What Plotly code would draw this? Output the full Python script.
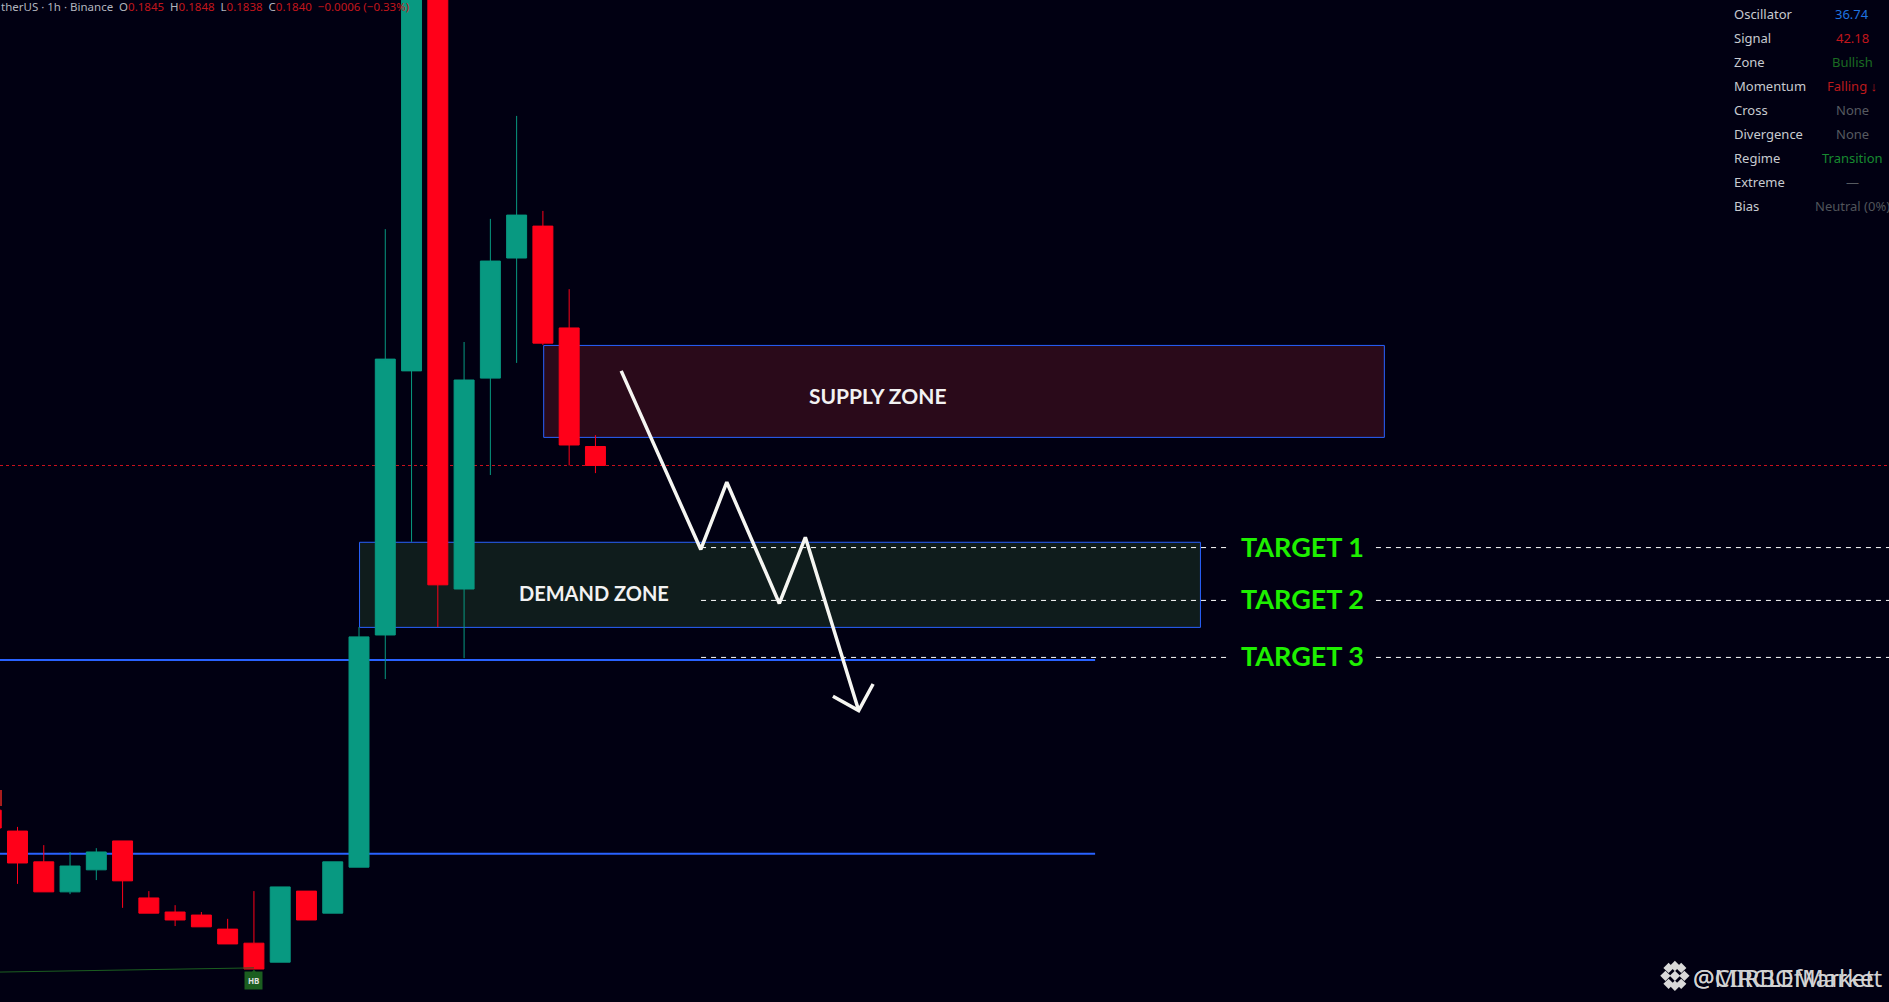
import plotly.graph_objects as go

# 1h candles, bar index and prices
bars = list(range(-1, 23))
opens = [0.17493, 0.17438, 0.17357, 0.17278, 0.17336, 0.17412, 0.17262, 0.17225, 0.17217, 0.1718, 0.17143, 0.17093,
         0.1728, 0.17222, 0.17343, 0.17954, 0.18649, 0.2010, 0.18075, 0.1863, 0.18946, 0.1903, 0.18762, 0.1845]
highs = [0.17493, 0.17449, 0.17401, 0.17383, 0.17393, 0.17412, 0.1728, 0.17243, 0.17225, 0.17207, 0.1728, 0.17291,
         0.1728, 0.17357, 0.17975, 0.19022, 0.1990, 0.2010, 0.18725, 0.19049, 0.1932, 0.1907, 0.18864, 0.1848]
lows = [0.17446, 0.17299, 0.17278, 0.17272, 0.17309, 0.17236, 0.17222, 0.17188, 0.17186, 0.17141, 0.17075, 0.17093,
        0.17204, 0.17222, 0.17343, 0.17838, 0.18199, 0.17975, 0.17893, 0.18375, 0.1867, 0.18717, 0.184, 0.1838]
closes = [0.17446, 0.17354, 0.17278, 0.17346, 0.17383, 0.17307, 0.17222, 0.17204, 0.17186, 0.17141, 0.17075, 0.17291,
          0.17204, 0.17357, 0.17949, 0.1868, 0.1990, 0.18086, 0.18625, 0.18938, 0.19059, 0.18722, 0.18454, 0.184]

# zones: x0, x1, y0, y1
supply_zone = [20.03, 52.03, 0.18474, 0.18716]
demand_zone = [13.02, 45.03, 0.17974, 0.18198]
support_levels = [0.17888, 0.17378]
last_price = 0.184

target_names = ["TARGET 1", "TARGET 2", "TARGET 3"]
target_levels = [0.18184, 0.18045, 0.17895]

# hand drawn projection
path_x = [22.98, 26.01, 27.0, 29.0, 29.99, 32.02]
path_y = [0.18649, 0.18179, 0.18356, 0.18037, 0.18211, 0.17755]
head_x = [31.04, 32.02, 32.57]
head_y = [0.17793, 0.17755, 0.17825]

trend_x = [-0.666, 9]
trend_y = [0.17067, 0.17078]

# oscillator table
table_labels = ["Oscillator", "Signal", "Zone", "Momentum", "Cross", "Divergence", "Regime", "Extreme", "Bias"]
table_values = ["36.74", "42.18", "Bullish", "Falling ↓", "None", "None", "Transition", "—", "Neutral (0%)"]
table_colors = ["#1f74e0", "#c2161c", "#1b6b22", "#bb1a1c", "#565a60", "#565a60", "#178a30", "#565a60", "#50545a"]

logo_x = [63.09, 62.73, 63.45, 63.09, 63.09, 62.85, 63.33, 62.85, 63.33]
logo_y = [0.17057, 0.17057, 0.17057, 0.17083, 0.17031, 0.17078, 0.17078, 0.17036, 0.17036]

X_RANGE = [-0.666, 71.24]
Y_RANGE = [0.169882, 0.19625]
BLUE = "#2962ff"
GREEN = "#089981"
RED = "#ff0019"

fig = go.Figure()

# zones and levels sit under the candles
for zone, fill in [(supply_zone, "#2a0a1a"), (demand_zone, "#0f1c1c")]:
    fig.add_shape(type="rect", x0=zone[0], x1=zone[1], y0=zone[2], y1=zone[3], layer="below",
                  fillcolor=fill, line=dict(color=BLUE, width=1))
for level in support_levels:
    fig.add_shape(type="line", x0=X_RANGE[0], x1=41.02, y0=level, y1=level, layer="below",
                  line=dict(color=BLUE, width=2))
fig.add_shape(type="line", x0=X_RANGE[0], x1=X_RANGE[1], y0=last_price, y1=last_price, layer="below",
              line=dict(color="#c8101c", width=1, dash="dot"))
fig.add_shape(type="rect", x0=X_RANGE[0], x1=-0.59, y0=0.17504, y1=0.17546, layer="below",
              fillcolor="#a81c1c", line=dict(width=0))

fig.add_trace(go.Scatter(x=trend_x, y=trend_y, mode="lines", line=dict(color="#1b5e20", width=1), hoverinfo="skip"))

fig.add_trace(go.Candlestick(
    x=bars, open=opens, high=highs, low=lows, close=closes,
    increasing=dict(line=dict(color=GREEN, width=1), fillcolor=GREEN),
    decreasing=dict(line=dict(color=RED, width=1), fillcolor=RED),
    whiskerwidth=0,
))

# target lines are broken around the labels
for level in target_levels:
    for x0, x1 in [(26.02, 46.16), (51.71, X_RANGE[1])]:
        fig.add_trace(go.Scatter(x=[x0, x1], y=[level, level], mode="lines", hoverinfo="skip",
                                 line=dict(color="#ffffff", width=1, dash="5px,5px")))

for xs, ys in [(path_x, path_y), (head_x, head_y)]:
    fig.add_trace(go.Scatter(x=xs, y=ys, mode="lines", hoverinfo="skip",
                             line=dict(color="#f6f6f2", width=3.5)))

fig.add_trace(go.Scatter(x=[9], y=[0.17062], mode="markers", hoverinfo="skip",
                         marker=dict(symbol="triangle-up", size=9, color="#1b5e20")))
fig.add_trace(go.Scatter(x=logo_x, y=logo_y, mode="markers", hoverinfo="skip",
                         marker=dict(symbol="diamond", size=8, color="#d9d9d9")))

# texts
fig.add_annotation(x=32.75, y=0.18583, text="<b>SUPPLY ZONE</b>", showarrow=False,
                   font=dict(family="Lato", size=21, color="#f2f2f2"))
fig.add_annotation(x=21.95, y=0.18064, text="<b>DEMAND ZONE</b>", showarrow=False,
                   font=dict(family="Lato", size=20, color="#f2f2f2"))
for name, level in zip(target_names, target_levels):
    fig.add_annotation(x=46.5, y=level, text=f"<b>{name}</b>", showarrow=False, xanchor="left", yshift=1.5,
                       font=dict(family="Lato", size=27, color="#1ef000"))
fig.add_annotation(x=9, y=0.17045, text="<b>HB</b>", showarrow=False, bgcolor="#1b5e20", borderpad=3,
                   yanchor="middle", font=dict(family="Noto Sans", size=8, color="#e0e0e0"))

red_span = '<span style="color:#c2161c">{}</span>'
header = ("therUS · 1h · Binance&nbsp;&nbsp;O" + red_span.format("0.1845") + "&nbsp;&nbsp;H" + red_span.format("0.1848")
          + "&nbsp;&nbsp;L" + red_span.format("0.1838") + "&nbsp;&nbsp;C" + red_span.format("0.1840")
          + "&nbsp;&nbsp;" + red_span.format("−0.0006 (−0.33%)"))
fig.add_annotation(xref="paper", yref="paper", x=0, y=1 - 7 / 1002, text=header, showarrow=False, xanchor="left",
                   yanchor="middle", borderpad=0, font=dict(family="Noto Sans", size=11.5, color="#b2b5be"))

for row, (label, value, color) in enumerate(zip(table_labels, table_values, table_colors)):
    row_y = 1 - (14.3 + 24 * row) / 1002
    fig.add_annotation(xref="paper", yref="paper", x=1732 / 1889, y=row_y, text=label, showarrow=False,
                       xanchor="left", yanchor="middle", font=dict(family="Noto Sans", size=13, color="#c8cbd0"))
    fig.add_annotation(xref="paper", yref="paper", x=1852.3 / 1889, y=row_y, text=value, showarrow=False,
                       xanchor="center", yanchor="middle", font=dict(family="Noto Sans", size=13, color=color))

# two watermarks printed over each other
for mark in ["@CIRCLEMarket", "@MIRBOfMarket"]:
    fig.add_annotation(xref="paper", yref="paper", x=1691 / 1889, y=1 - 977 / 1002, text=mark, showarrow=False,
                       xanchor="left", yanchor="middle", font=dict(family="Noto Sans", size=24, color="#d2d2d2"))

fig.update_layout(
    width=1889, height=1002, margin=dict(l=0, r=0, t=0, b=0),
    paper_bgcolor="#010012", plot_bgcolor="#010012", showlegend=False, boxgap=0.24, boxgroupgap=0,
    xaxis=dict(range=X_RANGE, visible=False, rangeslider=dict(visible=False)),
    yaxis=dict(range=Y_RANGE, visible=False),
)

fig.write_html("out.html", config={"displayModeBar": False},
               post_script="document.body.style.margin='0';document.body.style.overflow='hidden';")
